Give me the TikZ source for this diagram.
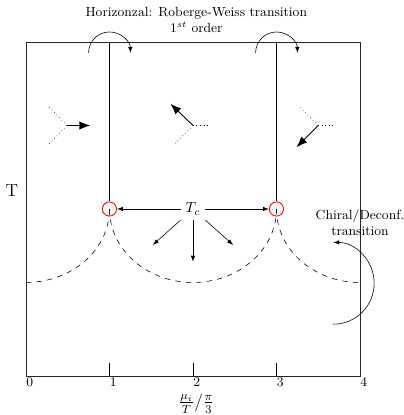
\documentclass[tikz,border=0pt]{standalone}
\usetikzlibrary{arrows.meta}
\begin{document}
\begin{tikzpicture}[x=2cm,y=2cm, font=\small,
  frame/.style={semithick, black!85},
  crit/.style={circle, draw=red, semithick, minimum size=0.34cm, inner sep=0pt},
  arr/.style={-latex},
  fanarr/.style={-{Latex[length=2.6mm,width=2mm]}, semithick},
  fandot/.style={dotted},
  trans/.style={dash pattern=on 3.6pt off 3.6pt}]
\useasboundingbox (-0.311,-0.467) rectangle (4.527,4.503);
% frame and axis
\draw[frame] (0,0) rectangle (4,4);
\foreach \i in {1,2,3} {\coordinate (tb\i) at (\i,0); \coordinate (tt\i) at (\i,0.15); \draw (tb\i) -- (tt\i);}
\foreach \i in {0,...,4} {\node[inner sep=1pt] (tick\i) at (\i+0.045,-0.075) {\i};}
\node[font=\large, inner sep=0pt] (xlab) at (2.04,-0.33) {$\frac{\mu_i}{T}/\frac{\pi}{3}$};
\node[font=\large] (ylab) at (-0.17,2.22) {T};
\node[align=center] (title) at (2.04,4.26) {Horizonzal: Roberge-Weiss transition\\$1^{st}$ order};
% transition lines
\coordinate (top1) at (1,4); \coordinate (top3) at (3,4);
\coordinate (c1p) at (1,2); \coordinate (c3p) at (3,2);
\coordinate (lstart) at (0,1.12);
\draw[trans] (lstart) arc[start angle=270,end angle=360,x radius=1,y radius=0.88];
\draw[trans] (c1p) arc[start angle=180,end angle=360,x radius=1,y radius=0.88];
\draw[trans] (c3p) arc[start angle=180,end angle=270,x radius=1,y radius=0.88];
\node[crit] (c1) at (c1p) {};
\node[crit] (c3) at (c3p) {};
\draw (top1) -- (c1);
\draw (top3) -- (c3);
% Tc
\node[font=\normalsize] (tc) at (2,2) {$T_c$};
\draw[arr] (tc) -- (c1);
\draw[arr] (tc) -- (c3);
\coordinate (d1) at (1.52,1.57);
\coordinate (d2) at (2,1.37);
\coordinate (d3) at (2.48,1.57);
\draw[arr] (tc) -- (d1);
\draw[arr] (tc) -- (d2);
\draw[arr] (tc) -- (d3);
% RW arcs
\coordinate (rw1) at (0.75,3.87);
\coordinate (rw3) at (2.75,3.87);
\draw[arr] (rw1) arc[start angle=180,end angle=0,radius=0.25];
\draw[arr] (rw3) arc[start angle=180,end angle=0,radius=0.25];
% chiral
\node[align=center] (chiral) at (4,1.84) {Chiral/Deconf.\\transition};
\coordinate (ch) at (3.68,0.62);
\draw[arr] (ch) arc[start angle=-90,end angle=90,radius=0.49];
% fans
\coordinate (v1) at (0.49,3); \coordinate (v1a) at (0.27,3.23); \coordinate (v1b) at (0.27,2.77); \coordinate (v1c) at (0.77,3);
\draw[fandot] (v1) -- (v1a); \draw[fandot] (v1) -- (v1b); \draw[fanarr] (v1) -- (v1c);
\coordinate (v2) at (2,3); \coordinate (v2a) at (2.21,3); \coordinate (v2b) at (1.77,2.77); \coordinate (v2c) at (1.73,3.26);
\draw[fandot] (v2) -- (v2a); \draw[fandot] (v2) -- (v2b); \draw[fanarr] (v2) -- (v2c);
\coordinate (v3) at (3.5,3); \coordinate (v3a) at (3.27,3.23); \coordinate (v3b) at (3.71,3); \coordinate (v3c) at (3.24,2.74);
\draw[fandot] (v3) -- (v3a); \draw[fandot] (v3) -- (v3b); \draw[fanarr] (v3) -- (v3c);
\end{tikzpicture}
\end{document}
